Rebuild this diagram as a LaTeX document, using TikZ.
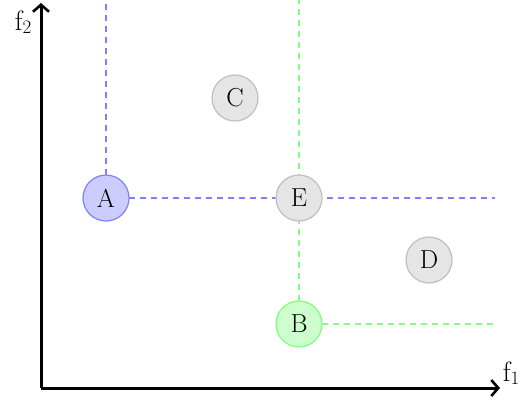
\documentclass[tikz,border=0pt]{standalone}
\usetikzlibrary{arrows.meta}
\begin{document}
\begin{tikzpicture}[x=1pt,y=-1pt,
  lbl/.style={font=\fontsize{26}{30}\selectfont},
  axlbl/.style={font=\fontsize{28}{32}\selectfont},
  pt/.style={lbl,circle,minimum size=46pt,inner sep=0pt,line width=1.2pt},
  ptgray/.style={pt,draw=gray!50,fill=gray!20},
  ptblue/.style={pt,draw=blue!50,fill=blue!20},
  ptgreen/.style={pt,draw=green!50,fill=green!20},
  axis/.style={line width=3pt,-{Straight Barb[length=7pt,width=16pt,line width=2.6pt]}},
  guide/.style={line width=1.4pt,dash pattern=on 6pt off 5pt}]
\useasboundingbox (0,0) rectangle (521,405);
% reference points
\coordinate (O) at (41,388);
\coordinate (ytip) at (41,3);
\coordinate (xtip) at (500,388);
\coordinate (Atop) at (106,0);
\coordinate (Aend) at (495,198);
\coordinate (Btop) at (299,0);
\coordinate (Bend) at (495,324);
% guide lines
\draw[guide,blue!50] (106,175) -- (Atop);
\draw[guide,blue!50] (129,198) -- (Aend);
\draw[guide,green!50] (299,301) -- (Btop);
\draw[guide,green!50] (322,324) -- (Bend);
% points
\node[ptblue] (A) at (106,198) {A};
\node[ptgray] (E) at (299,198) {E};
\node[ptgray] (C) at (235,98) {C};
\node[ptgray] (D) at (429,260) {D};
\node[ptgreen] (B) at (299,324) {B};
% axes
\draw[axis] (O) -- (ytip);
\draw[axis] (O) -- (xtip);
\node[axlbl] (f2) at (23,22) {f\raisebox{-0.25ex}{\fontsize{19}{22}\selectfont 2}};
\node[axlbl] (f1) at (511,373) {f\raisebox{-0.25ex}{\fontsize{19}{22}\selectfont 1}};
\end{tikzpicture}
\end{document}
